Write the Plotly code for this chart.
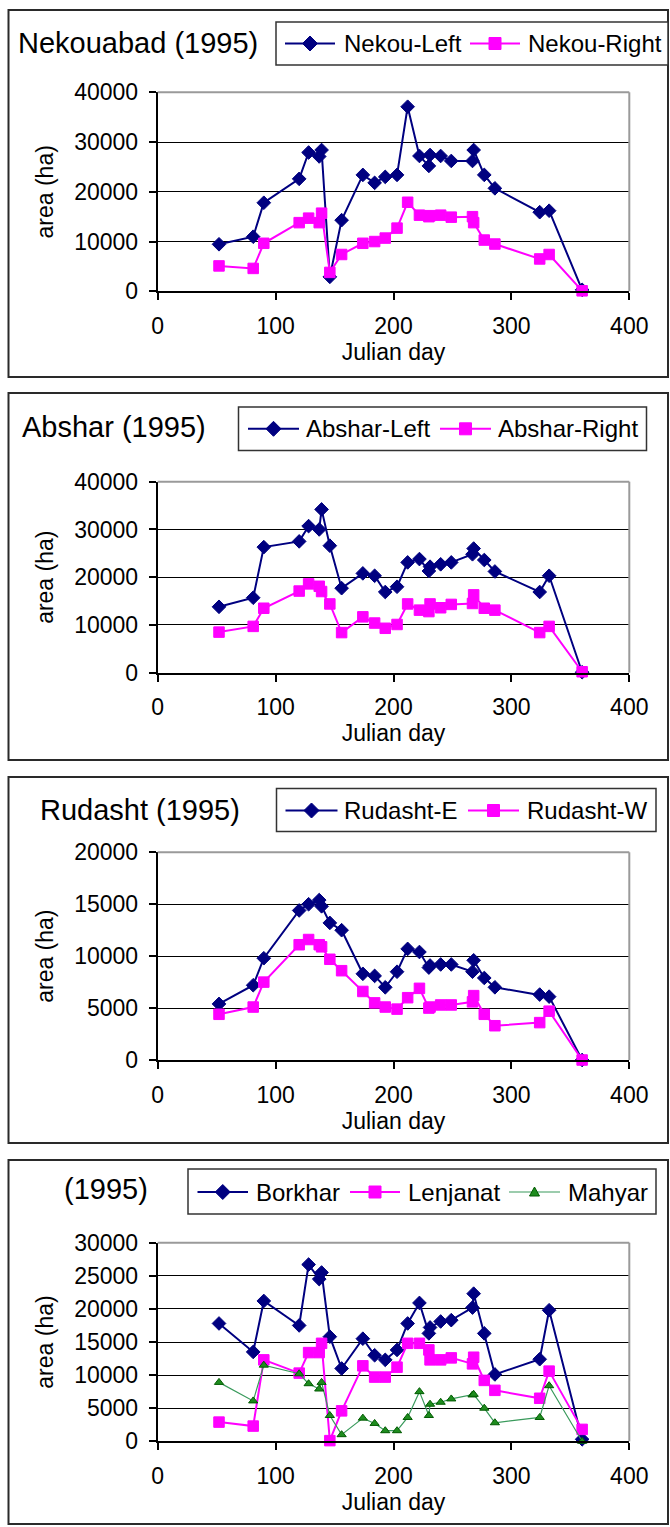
import plotly.graph_objects as go

# ---------------------------------------------------------------------------
# Data: cultivated area (ha) per Julian day, 1995
# ---------------------------------------------------------------------------
julian_day = [52, 81, 90, 120, 128, 137, 139, 146, 156, 174, 184, 193, 203,
              212, 222, 230, 231, 240, 249, 267, 268, 277, 286, 324, 332, 360]

nekou_left = [9450, 10970, 17800, 22600, 27900, 27100, 28400, 2900, 14300, 23400, 21800, 23000, 23400,
              37100, 27200, 25200, 27400, 27200, 26200, 26200, 28400, 23400, 20700, 15900, 16200, 300]
nekou_right = [5100, 4600, 9650, 13800, 14700, 13800, 15700, 3800, 7400, 9650, 10000, 10700, 12700,
               17900, 15300, 15000, 15200, 15300, 14900, 15000, 13800, 10300, 9500, 6500, 7400, 100]

abshar_left = [13800, 15700, 26300, 27500, 30700, 30000, 34200, 26600, 17700, 20800, 20300, 16900, 18000,
               23100, 23800, 21300, 22200, 22700, 23100, 24800, 26000, 23600, 21200, 16900, 20300, 100]
abshar_right = [8500, 9700, 13500, 17100, 18600, 18100, 17000, 14400, 8400, 11700, 10400, 9300, 10100,
                14400, 13100, 12800, 14400, 13600, 14300, 14500, 16300, 13500, 13100, 8400, 9700, 200]

rudasht_e = [5400, 7200, 9800, 14400, 15000, 15400, 14800, 13200, 12500, 8300, 8100, 7000, 8500,
             10700, 10400, 8900, 9100, 9200, 9200, 8500, 9600, 7900, 7000, 6300, 6100, 0]
rudasht_w = [4400, 5100, 7500, 11100, 11600, 11100, 10900, 9700, 8600, 6600, 5500, 5100, 4900,
             6000, 6900, 5000, 5100, 5300, 5300, 5600, 6200, 4400, 3300, 3600, 4700, 0]

borkhar = [17800, 13500, 21200, 17500, 26700, 24500, 25500, 15800, 11000, 15500, 13000, 12300, 13800,
           17800, 20900, 16300, 17200, 18100, 18300, 20200, 22300, 16300, 10100, 12400, 19800, 300]
lenjanat = [2900, 2300, 12300, 10300, 13400, 13400, 14800, 100, 4600, 11400, 9700, 9700, 11200,
            14800, 14800, 13800, 12300, 12300, 12600, 11700, 12700, 9200, 7700, 6500, 10600, 1800]
mahyar = [8900, 6100, 11500, 10200, 8700, 7900, 8900, 3900, 1000, 3500, 2700, 1600, 1600,
          3600, 7500, 3900, 5600, 5900, 6400, 7000, 7100, 5000, 2800, 3600, 8400, 0]

panel_titles = ["Nekouabad (1995)", "Abshar (1995)", "Rudasht (1995)", "(1995)"]
x_title = "Julian day"
y_title = "area (ha)"

# ---------------------------------------------------------------------------
# Page geometry (pixels) and styles
# ---------------------------------------------------------------------------
W, H = 670, 1527
FONT = "Liberation Sans, Arial, sans-serif"
NAVY, MAGENTA = "#000080", "#FF00FF"
GREEN_LINE, GREEN_FILL, GREEN_EDGE = "#3a9a5c", "#1e8c1e", "#005a00"


def px(x):
    return x / W


def py(y):
    return 1 - y / H


STYLE = {
    "navy": dict(line=dict(color=NAVY, width=2),
                 marker=dict(symbol="diamond", size=10.5, color=NAVY, line=dict(color=NAVY, width=1))),
    "magenta": dict(line=dict(color=MAGENTA, width=2),
                    marker=dict(symbol="square", size=10.5, color=MAGENTA, line=dict(color=MAGENTA, width=1))),
    "green": dict(line=dict(color=GREEN_LINE, width=1.2),
                  marker=dict(symbol="triangle-up", size=8, color=GREEN_FILL, line=dict(color=GREEN_EDGE, width=1))),
}

panels = [
    dict(box=(8.5, 10, 668, 377), plot=(157.7, 92.3, 629.3, 291.3), ymax=40000, dtick=10000,
         title=(16, 43),
         series=[("Nekou-Left", nekou_left, "navy"), ("Nekou-Right", nekou_right, "magenta")],
         legend=dict(box=(276, 22, 668, 65), cy=43.5, items=[(285, 335, 342), (470, 520, 526)])),
    dict(box=(8.5, 393, 668, 760), plot=(157.7, 481.7, 629.3, 672.7), ymax=40000, dtick=10000,
         title=(20, 427),
         series=[("Abshar-Left", abshar_left, "navy"), ("Abshar-Right", abshar_right, "magenta")],
         legend=dict(box=(238.5, 407, 646.5, 450.5), cy=428.8, items=[(248, 299, 304), (440, 491, 496)])),
    dict(box=(8.5, 777, 668, 1143), plot=(157.7, 852.3, 629.3, 1060), ymax=20000, dtick=5000,
         title=(38, 810.5),
         series=[("Rudasht-E", rudasht_e, "navy"), ("Rudasht-W", rudasht_w, "magenta")],
         legend=dict(box=(276.5, 788.5, 656, 831.5), cy=810.5, items=[(285.5, 337.5, 342), (468, 519, 525)])),
    dict(box=(8.5, 1160, 668, 1524), plot=(157.7, 1242.7, 629.3, 1441.3), ymax=30000, dtick=5000,
         title=(62, 1189),
         series=[("Borkhar", borkhar, "navy"), ("Lenjanat", lenjanat, "magenta"), ("Mahyar", mahyar, "green")],
         legend=dict(box=(188, 1169, 656, 1214), cy=1192,
                     items=[(197.5, 248, 254), (350, 400, 406), (509, 560, 566)])),
]

fig = go.Figure()
shapes, annotations = [], []
layout = dict(width=W, height=H, margin=dict(l=0, r=0, t=0, b=0),
              paper_bgcolor="white", plot_bgcolor="white", showlegend=False,
              font=dict(family=FONT, color="black"))

tick_font = dict(family=FONT, size=23, color="black")

for i, p in enumerate(panels, start=1):
    xa = "xaxis" if i == 1 else f"xaxis{i}"
    ya = "yaxis" if i == 1 else f"yaxis{i}"
    xr = "x" if i == 1 else f"x{i}"
    yr = "y" if i == 1 else f"y{i}"
    x0, y0, x1, y1 = p["plot"]

    layout[xa] = dict(domain=[px(x0), px(x1)], anchor=yr, range=[0, 400], tick0=0, dtick=100,
                      showgrid=False, zeroline=False, showline=True, linecolor="black", linewidth=2,
                      ticks="outside", ticklen=7, tickwidth=1.5, tickcolor="black",
                      tickfont=tick_font, ticklabelstandoff=6, automargin=False, fixedrange=True,
                      title=dict(text=x_title, font=dict(family=FONT, size=23, color="black"), standoff=4))
    layout[ya] = dict(domain=[py(y1), py(y0)], anchor=xr, range=[0, p["ymax"]], tick0=0, dtick=p["dtick"],
                      tickformat="d", showgrid=True, gridcolor="black", gridwidth=1, zeroline=False,
                      showline=True, linecolor="black", linewidth=2,
                      ticks="outside", ticklen=7, tickwidth=1.5, tickcolor="black",
                      tickfont=tick_font, ticklabelstandoff=6, automargin=False, fixedrange=True,
                      title=dict(text=y_title, font=dict(family=FONT, size=23, color="black"), standoff=14))

    for name, vals, key in p["series"]:
        fig.add_trace(go.Scatter(x=julian_day, y=vals, name=name, mode="lines+markers",
                                 xaxis=xr, yaxis=yr, cliponaxis=False, **STYLE[key]))

    # gray plot-area border on top and right
    shapes.append(dict(type="line", xref="paper", yref="paper", x0=px(x0), x1=px(x1), y0=py(y0), y1=py(y0),
                       line=dict(color="#9a9a9a", width=2), layer="above"))
    shapes.append(dict(type="line", xref="paper", yref="paper", x0=px(x1), x1=px(x1), y0=py(y0), y1=py(y1),
                       line=dict(color="#9a9a9a", width=2), layer="above"))

    # chart frame
    bx0, by0, bx1, by1 = p["box"]
    shapes.append(dict(type="rect", xref="paper", yref="paper", x0=px(bx0), x1=px(bx1), y0=py(by1), y1=py(by0),
                       line=dict(color="#2a2a2a", width=2), fillcolor="rgba(0,0,0,0)", layer="above"))

    # panel title
    tx, ty = p["title"]
    annotations.append(dict(text=panel_titles[i - 1], xref="paper", yref="paper", x=px(tx), y=py(ty),
                            xanchor="left", yanchor="middle", showarrow=False,
                            font=dict(family=FONT, size=29, color="black")))

    # legend box with line samples, marker glyphs and names
    lg = p["legend"]
    lx0, ly0, lx1, ly1 = lg["box"]
    shapes.append(dict(type="rect", xref="paper", yref="paper", x0=px(lx0), x1=px(lx1), y0=py(ly1), y1=py(ly0),
                       line=dict(color="#333333", width=1.5), fillcolor="white", layer="above"))
    cy = lg["cy"]
    for (sx0, sx1, tx0), (name, _, key) in zip(lg["items"], p["series"]):
        st = STYLE[key]
        shapes.append(dict(type="line", xref="paper", yref="paper", x0=px(sx0), x1=px(sx1), y0=py(cy), y1=py(cy),
                           line=dict(color=st["line"]["color"], width=st["line"]["width"]), layer="above"))
        cx = (sx0 + sx1) / 2
        if key == "navy":
            h = 7.5
            path = (f"M{px(cx - h)},{py(cy)} L{px(cx)},{py(cy - h)} "
                    f"L{px(cx + h)},{py(cy)} L{px(cx)},{py(cy + h)} Z")
            fill, edge = NAVY, NAVY
        elif key == "magenta":
            h = 6
            path = (f"M{px(cx - h)},{py(cy - h)} L{px(cx + h)},{py(cy - h)} "
                    f"L{px(cx + h)},{py(cy + h)} L{px(cx - h)},{py(cy + h)} Z")
            fill, edge = MAGENTA, MAGENTA
        else:
            path = (f"M{px(cx - 5)},{py(cy + 4)} L{px(cx + 5)},{py(cy + 4)} "
                    f"L{px(cx)},{py(cy - 5)} Z")
            fill, edge = GREEN_FILL, GREEN_EDGE
        shapes.append(dict(type="path", xref="paper", yref="paper", path=path, fillcolor=fill,
                           line=dict(color=edge, width=1), layer="above"))
        annotations.append(dict(text=name, xref="paper", yref="paper", x=px(tx0), y=py(cy),
                                xanchor="left", yanchor="middle", showarrow=False,
                                font=dict(family=FONT, size=24, color="black")))

layout["shapes"] = shapes
layout["annotations"] = annotations
fig.update_layout(**layout)
fig.write_html("out.html")
